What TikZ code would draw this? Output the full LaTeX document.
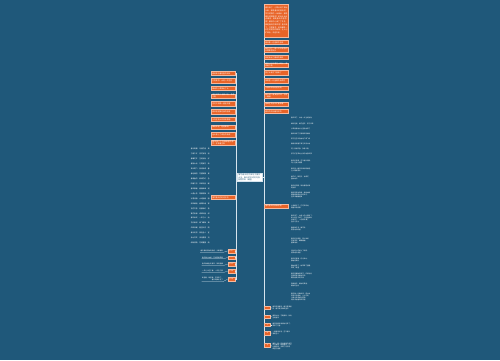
\documentclass[tikz,border=0pt]{standalone}
\usepackage{fontspec}
\setmainfont{Noto Sans CJK SC}
\XeTeXlinebreaklocale "zh"
\XeTeXlinebreakskip=0pt plus 0.5pt
\definecolor{bg}{RGB}{31,88,122}
\definecolor{og}{RGB}{232,100,40}
\definecolor{lc}{RGB}{214,228,238}
\begin{document}
\begin{tikzpicture}[x=1pt,y=-1pt,
 ob/.style={draw=og!45!white, line width=0.3pt, fill=og, text=white, inner xsep=0.8pt, inner ysep=0.5pt, minimum height=4.4pt, text width=22.4pt, align=left, font=\fontsize{1.8}{2.1}\selectfont},
 tb/.style={ob, minimum height=33pt, font=\fontsize{1.8}{2.75}\selectfont, anchor=north west},
 rb/.style={ob, anchor=north west},
 lb/.style={ob, anchor=north east},
 wt/.style={text=white, inner sep=0.3pt, font=\fontsize{1.6}{1.9}\selectfont, align=left},
 sb/.style={draw=og!45!white, line width=0.25pt, fill=og, minimum width=7pt, minimum height=3.4pt, inner sep=0.2pt, text=white, font=\fontsize{1.3}{1.5}\selectfont},
 ln/.style={draw=lc, line width=0.6pt},
 ul/.style={draw=lc, line width=0.2pt},
]
\fill[bg] (0,0) rectangle (500,360);
\useasboundingbox (0,0) rectangle (500,360);

% spine coordinates
\coordinate (rs1) at (263.9,20);
\coordinate (rs2) at (263.9,345.5);
\coordinate (ls1) at (236.2,73);
\coordinate (ls2) at (236.2,279.5);
\draw[ln] (rs1) -- (rs2);
\draw[ln] (ls1) -- (ls2);

% center
\node[draw=lc, line width=0.3pt, fill=white, text=bg, inner sep=0.8pt, text width=22.6pt, align=left,
  font=\fontsize{1.9}{2.35}\selectfont] (c) at (249.6,177.5)
  {描写春天的优美句子摘抄大全，春天的好词好句及段落赏析（精选）};
\draw[ln] (c.west) -- (c.west -| ls1);
\draw[ln] (c.east) -- (c.east -| rs1);

% top right block
\node[tb] (t0) at (264.4,4) {春天来了，小草从地下探出头来，那是春天的眉毛吧？早开的野花一朵两朵，那是春天的眼睛吧？树木吐出点点嫩芽，那是春天的音符吧？解冻的小溪丁丁冬冬，那是春天的琴声吧？春天来了，万物复苏，到处都是一片生机勃勃的景象，让人心旷神怡，流连忘返。};

% right boxes
\node[rb] (r1) at (264.4,40) {春风像一位温柔的母亲};
\node[rb] (r2) at (264.4,47.3) {桃花开了，像一片片粉色的云霞飘在枝头};
\node[rb] (r3) at (264.4,55) {柳树抽出了嫩绿的新枝};
\node[rb] (r4) at (264.4,62.5) {春雨沙沙地落在大地上，滋润着万物};
\node[rb] (r5) at (264.4,70.3) {燕子从南方飞回来了};
\node[rb] (r6) at (264.4,78.3) {田野里一片金黄的油菜花};
\node[rb] (r7) at (264.4,85.7) {小溪哗哗地向前流淌};
\node[rb] (r8) at (264.4,93.3) {春天是一首美丽的诗，也是一幅画};
\node[rb] (r9) at (264.4,101.7) {蜜蜂在花丛中忙着采蜜};
\node[rb] (r10) at (264.4,109) {春天的阳光暖洋洋的};

% left boxes
\node[lb] (l1) at (235.7,71) {春姑娘迈着轻盈的脚步};
\node[lb] (l2) at (235.7,78.3) {万物复苏，大地一片生机};
\node[lb] (l3) at (235.7,86) {嫩绿的小草探出了头};
\node[lb] (l4) at (235.7,93.7) {春天的花儿五颜六色，争奇斗艳};
\node[lb] (l5) at (235.7,101.3) {杏花开得像一团团白雪};
\node[lb] (l6) at (235.7,109.3) {春风轻轻拂过我的脸庞};
\node[lb] (l7) at (235.7,117) {小鸟在枝头欢快地歌唱};
\node[lb] (l8) at (235.7,124.7) {细雨如丝，轻轻飘洒};
\node[lb] (l9) at (235.7,132.3) {远山披上了绿色的新装};
\node[lb] (l10) at (235.7,140) {春天是一个充满希望的季节，孕育着生命};

% left branch
\node[lb] (lb) at (235.7,195) {描写春天的好词好句};
\foreach \t [count=\i] in {春光明媚　鸟语花香　美,万紫千红　百花争艳　丽,春暖花开　生机勃勃　好,春回大地　万物复苏　新,草长莺飞　桃红柳绿　春,春色满园　花团锦簇　景,春意盎然　柳绿花红　色,阳春三月　风和日丽　暖,春风拂面　春雨绵绵　润,山清水秀　莺歌燕舞　欢,冰雪消融　大地回春　融,和风细雨　春寒料峭　寒,百花齐放　姹紫嫣红　艳,繁花似锦　绿草如茵　绿,春华秋实　一年之计　始,花红柳绿　蜂飞蝶舞　舞,风和日暖　碧空如洗　晴,春光无限　景色宜人　宜,泉水叮咚　溪流潺潺　流,绿树成荫　芳草萋萋　荫}
  \node[wt, anchor=east, font=\fontsize{1.7}{2}\selectfont] (lc\i) at (210,{149.3+(\i-1)*4.93}) {\t};

% bottom left labels
\node[sb, anchor=east] (bl1) at (234.8,251) {句子一};
\node[sb, anchor=east] (bl2) at (234.8,257.5) {句子二};
\node[sb, anchor=east] (bl3) at (234.8,264.2) {句子三};
\node[sb, anchor=east] (bl4) at (234.8,271.2) {句子四};
\node[sb, anchor=east] (bl5) at (234.8,279.2) {句子五};
\node[wt, anchor=east] (blt1) at (223.5,251) {春天像刚落地的娃娃，头脚都新};
\node[wt, anchor=east] (blt2) at (223.5,257.5) {春天像小姑娘，花枝招展笑着};
\node[wt, anchor=east] (blt3) at (223.5,264.2) {春天像健壮的青年，铁的胳膊};
\node[wt, anchor=east] (blt4) at (223.5,271.2) {一年之计在于春，一日在于晨};
\node[wt, anchor=east, align=right] (blt5) at (223.5,279.2) {盼望着，盼望着，东风来了，\\春天的脚步近了};
\foreach \i in {1,...,5} {
  \draw[ul] (blt\i.south west) -- (blt\i.south east) -- (bl\i.west);
  \draw[ln] (bl\i.east) -- (bl\i.east -| ls1);
}

% right branch
\node[rb] (rb) at (264.4,203.7) {描写春天的优美段落};
\node[wt, anchor=west] (rc1) at (290.6,118.3) {春天来了，大地一片生机勃勃};
\node[wt, anchor=west] (rc2) at (290.6,124) {柳枝轻摇，桃花盛开，燕子归来};
\node[wt, anchor=west] (rc3) at (290.6,129) {小草偷偷地从土里钻出来了};
\node[wt, anchor=west] (rc4) at (290.6,134) {春风吹绿了江南两岸的柳树};
\node[wt, anchor=west] (rc5) at (290.6,139) {燕子在空中自由地飞来飞去};
\node[wt, anchor=west] (rc6) at (290.6,144) {春雨滋润着干渴已久的大地};
\node[wt, anchor=west] (rc7) at (290.6,149) {花儿竞相开放，争奇斗艳};
\node[wt, anchor=west] (rc8) at (290.6,153.7) {孩子们在草地上快乐地放风筝};
\node[wt, anchor=west] (rc9) at (290.6,161.5) {春天的早晨，空气格外清新，\\鸟儿在枝头唱歌};
\node[wt, anchor=west] (rc10) at (290.6,169.5) {春天是一幅五彩缤纷的画卷，\\让人陶醉其中};
\node[wt, anchor=west] (rc11) at (290.6,178.3) {桃花红，梨花白，油菜花\\金灿灿的};
\node[wt, anchor=west] (rc12) at (290.6,186.7) {春天的田野，到处都是忙碌\\的身影};
\node[wt, anchor=west] (rc13) at (290.6,195) {春风轻轻地吹着，柳树姑娘\\梳理着她那长长的辫子，\\在风中翩翩起舞};
\node[wt, anchor=west] (rc14) at (290.6,207) {小溪解冻了，叮叮咚咚地\\唱着欢快的歌};
\node[wt, anchor=west] (rc15) at (290.6,218.8) {春天来了，山坡上的小草绿了，\\树上的叶子绿了，河边的柳树\\也发芽了，一切都充满了\\生机与活力};
\node[wt, anchor=west] (rc16) at (290.6,229.3) {春雨像牛毛，像花针，\\密密地斜织着};
\node[wt, anchor=west] (rc17) at (290.6,240.5) {春天的公园里，游人如织，\\花香阵阵，蝴蝶翩翩，\\蜜蜂嗡嗡};
\node[wt, anchor=west] (rc18) at (290.6,251.7) {远处的山峦披上了绿装，\\显得格外秀丽};
\node[wt, anchor=west] (rc19) at (290.6,259.7) {春天的夜晚，月光如水，\\静谧而美好};
\node[wt, anchor=west] (rc20) at (290.6,267) {春姑娘来了，她带来了温暖，\\带来了希望};
\node[wt, anchor=west] (rc21) at (290.6,276) {春天是播种的季节，农民伯伯\\在田野里辛勤地劳作，\\期待着秋天的丰收};
\node[wt, anchor=west] (rc22) at (290.6,285) {我爱春天，爱她的美丽，\\爱她的生机};
\node[wt, anchor=west] (rc23) at (290.6,297) {春天像一位魔术师，把大地\\变得五彩缤纷，让人们的\\心情也变得格外舒畅，\\处处洋溢着欢声笑语};

% bottom right labels
\node[sb, anchor=west, minimum width=6pt] (br1) at (264.4,307.5) {一};
\node[sb, anchor=west, minimum width=6pt] (br2) at (264.4,316.5) {二};
\node[sb, anchor=west, minimum width=6pt] (br3) at (264.4,324.7) {三};
\node[sb, anchor=west, minimum width=6pt] (br4) at (264.4,333.2) {四};
\node[sb, anchor=west, minimum width=6pt] (br5) at (264.4,345.3) {五};
\node[wt, anchor=west] (brt1) at (272,308.2) {春天是温暖的，春天是美丽\\的，春天是充满希望的};
\node[wt, anchor=west] (brt2) at (272,316.6) {春回大地，万物更新，处处\\生机盎然};
\node[wt, anchor=west] (brt3) at (272,324.7) {春天的脚步悄悄地走来了，\\带来了花香};
\node[wt, anchor=west] (brt4) at (272,333) {一场春雨过后，空气格外\\清新宜人};
\node[wt, anchor=west] (brt5) at (272,346.3) {春天，是一年中最美的季节，\\花开满园，绿意盎然，让人\\心情舒畅，充满了无限的\\希望与憧憬};
\foreach \i in {1,...,5} \draw[ul] (br\i.east) -- (brt\i.west);
\end{tikzpicture}
\end{document}
